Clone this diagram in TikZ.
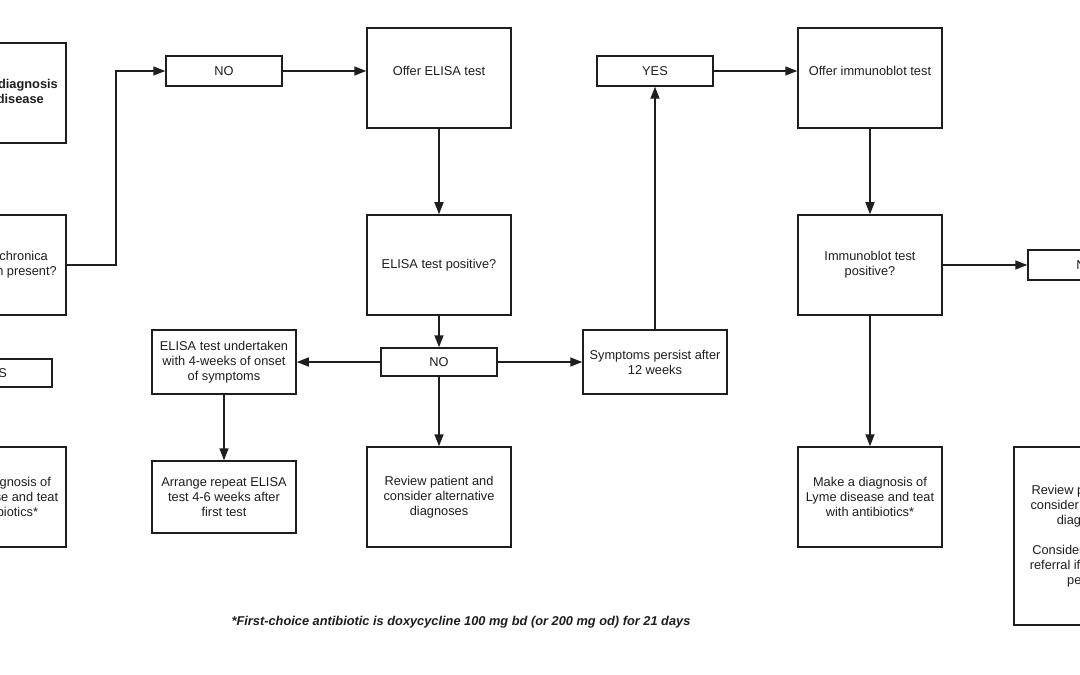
\documentclass[tikz,border=0pt]{standalone}
\usepackage{fontspec}
\setmainfont{Liberation Sans}
\usetikzlibrary{arrows.meta}
\definecolor{ink}{HTML}{1E1E1E}
\tikzset{
  bx/.style={draw=ink, line width=1.5bp, minimum width=144bp, minimum height=100bp, inner sep=0pt, align=center, text=ink, font=\fontsize{12.8bp}{15bp}\selectfont},
  tag/.style={bx, minimum width=116bp, minimum height=30bp},
  lbl/.style={text=ink, align=center, inner sep=0pt, font=\fontsize{12.8bp}{15bp}\selectfont},
  arr/.style={draw=ink, line width=1.5bp, -{Triangle[length=12bp,width=9bp]}},
}
\begin{document}
\begin{tikzpicture}[x=1bp,y=-1bp]
\useasboundingbox (0,0) rectangle (1080,675);
\clip (0,0) rectangle (1080,675);
\fill[white] (0,0) rectangle (1080,675);

% left column (cropped)
\node[bx] (A) at (-6,93) {};
\node[lbl, anchor=east, align=right, font=\bfseries\fontsize{12.8bp}{15bp}\selectfont] (Atext) at (58,91.5) {diagnosis\\disease\hspace*{14bp}};
\node[bx] (B) at (-6,265) {};
\node[lbl, anchor=east, align=right] (Btext) at (57,264.5) {chronica\hspace*{9bp}\\n present?};
\node[tag, minimum height=28bp] (YESL) at (-6,373) {YES};
\node[bx] (C) at (-6,497) {Make a diagnosis of\\Lyme disease and teat\\with antibiotics*};

% ELISA branch
\node[tag] (NO1) at (224,71) {NO};
\node[bx] (OE) at (439,78) {};
\node[lbl] (OEt) at (439,70.5) {Offer ELISA test};
\node[bx] (EP) at (439,265) {ELISA test positive?};
\node[tag, minimum height=28bp] (NO2) at (439,362) {NO};
\node[bx, minimum height=64bp] (EU) at (224,362) {ELISA test undertaken\\with 4-weeks of onset\\of symptoms};
\node[bx, minimum height=72bp] (AR) at (224,497) {Arrange repeat ELISA\\test 4-6 weeks after\\first test};
\node[bx] (RV) at (439,497) {Review patient and\\consider alternative\\diagnoses};
\node[bx, minimum height=64bp] (SP) at (655,362) {Symptoms persist after\\12 weeks};

% immunoblot branch
\node[tag] (YES) at (655,71) {YES};
\node[bx] (OI) at (870,78) {};
\node[lbl] (OIt) at (870,70.5) {Offer immunoblot test};
\node[bx] (IP) at (870,265) {Immunoblot test\\positive?};
\node[bx] (MD) at (870,497) {Make a diagnosis of\\Lyme disease and teat\\with antibiotics*};
\node[tag] (NO3) at (1086,265) {NO};
\node[bx, minimum height=178bp] (RR) at (1086,536) {Review patient and\\consider alternative\\diagnoses\\[15bp]Consider specialist\\referral if symptoms\\persist};

% connectors
\coordinate (k1) at (116,265);
\draw[arr] (B.east) -- (k1) |- (NO1.west);
\draw[arr] (NO1.east) -- (NO1.east -| OE.west);
\draw[arr] (OE.south) -- (EP.north);
\draw[arr] (EP.south) -- (NO2.north);
\draw[arr] (NO2.west) -- (NO2.west -| EU.east);
\draw[arr] (EU.south) -- (AR.north);
\draw[arr] (NO2.south) -- (RV.north);
\draw[arr] (NO2.east) -- (NO2.east -| SP.west);
\draw[arr] (SP.north) -- (YES.south);
\draw[arr] (YES.east) -- (YES.east -| OI.west);
\draw[arr] (OI.south) -- (IP.north);
\draw[arr] (IP.south) -- (MD.north);
\draw[arr] (IP.east) -- (NO3.west);

% footnote
\node[lbl, font=\bfseries\itshape\fontsize{12.8bp}{15bp}\selectfont] (note) at (461,622) {*First-choice antibiotic is doxycycline 100 mg bd (or 200 mg od) for 21 days};
\end{tikzpicture}
\end{document}
